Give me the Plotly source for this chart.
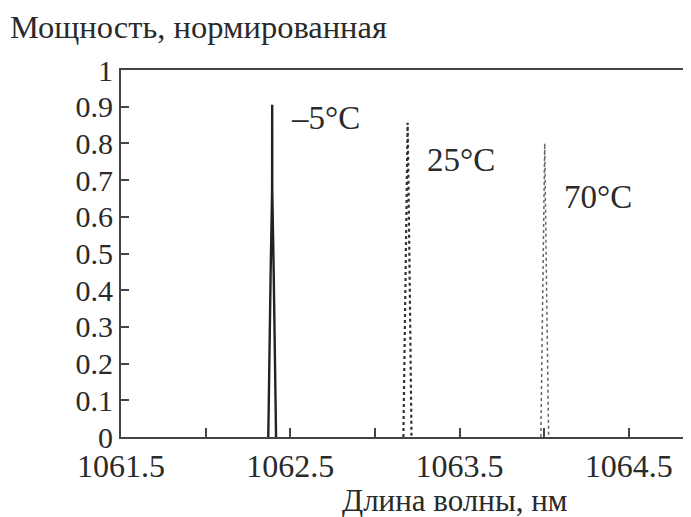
import plotly.graph_objects as go

# Data
wl_m5 = [1062.370, 1062.375, 1062.384, 1062.3925, 1062.393, 1062.3935, 1062.402, 1062.411, 1062.416]
p_m5 = [0.0, 0.22, 0.45, 0.67, 0.905, 0.67, 0.45, 0.22, 0.0]

wl_25 = [1063.168, 1063.180, 1063.191, 1063.193, 1063.195, 1063.206, 1063.216]
p_25 = [0.0, 0.40, 0.80, 0.856, 0.80, 0.40, 0.0]

wl_70 = [1063.980, 1063.992, 1064.002, 1064.003, 1064.004, 1064.014, 1064.026]
p_70 = [0.0, 0.40, 0.76, 0.80, 0.76, 0.40, 0.0]

labels = ["\u20135°C", "25°C", "70°C"]
label_x = [1062.494, 1063.293, 1064.104]
label_y = [0.869, 0.755, 0.654]

y_ticks = [0, 0.1, 0.2, 0.3, 0.4, 0.5, 0.6, 0.7, 0.8, 0.9, 1]
y_ticktext = ["0", "0.1", "0.2", "0.3", "0.4", "0.5", "0.6", "0.7", "0.8", "0.9", "1"]
x_ticks = [1061.5, 1062.0, 1062.5, 1063.0, 1063.5, 1064.0, 1064.5]
x_ticktext = ["1061.5", "", "1062.5", "", "1063.5", "", "1064.5"]

FONT = "'Liberation Serif', 'Times New Roman', serif"
TXT = "#2a2a2a"
AX = "#444444"

fig = go.Figure()
fig.add_trace(go.Scatter(x=wl_m5, y=p_m5, mode="lines",
                         line=dict(color="#222222", width=2.4, dash="solid"), showlegend=False))
fig.add_trace(go.Scatter(x=wl_25, y=p_25, mode="lines",
                         line=dict(color="#333333", width=2.2, dash="dot"), showlegend=False))
fig.add_trace(go.Scatter(x=wl_70, y=p_70, mode="lines",
                         line=dict(color="#666666", width=1.5, dash="dot"), showlegend=False))

for t, x, y in zip(labels, label_x, label_y):
    fig.add_annotation(x=x, y=y, text=t, showarrow=False, xanchor="left", yanchor="middle",
                       font=dict(family=FONT, size=33, color=TXT))

fig.add_annotation(xref="paper", yref="paper", x=-0.198, y=1.117, text="Мощность, нормированная",
                   showarrow=False, xanchor="left", yanchor="middle",
                   font=dict(family=FONT, size=32.5, color=TXT))
fig.add_annotation(xref="paper", yref="paper", x=0.585, y=-0.172, text="Длина волны, нм",
                   showarrow=False, xanchor="center", yanchor="middle",
                   font=dict(family=FONT, size=31, color=TXT))

fig.update_layout(
    width=683, height=509,
    margin=dict(l=113, r=0, t=62, b=80, autoexpand=False),
    paper_bgcolor="white", plot_bgcolor="white",
    showlegend=False,
)
fig.update_xaxes(range=[1061.5, 1064.867], tickvals=x_ticks, ticktext=x_ticktext,
                 automargin=False,
                 showgrid=False, zeroline=False, showline=True, mirror=True,
                 linecolor=AX, linewidth=2, ticks="inside", ticklen=9, tickwidth=2,
                 tickcolor=AX, tickfont=dict(family=FONT, size=32, color=TXT))
fig.update_yaxes(range=[0, 1], tickvals=y_ticks, ticktext=y_ticktext,
                 automargin=False,
                 showgrid=False, zeroline=False, showline=True,
                 linecolor=AX, linewidth=2, ticks="inside", ticklen=8, tickwidth=2,
                 tickcolor=AX, tickfont=dict(family=FONT, size=30, color=TXT))

fig.write_html("out.html")
